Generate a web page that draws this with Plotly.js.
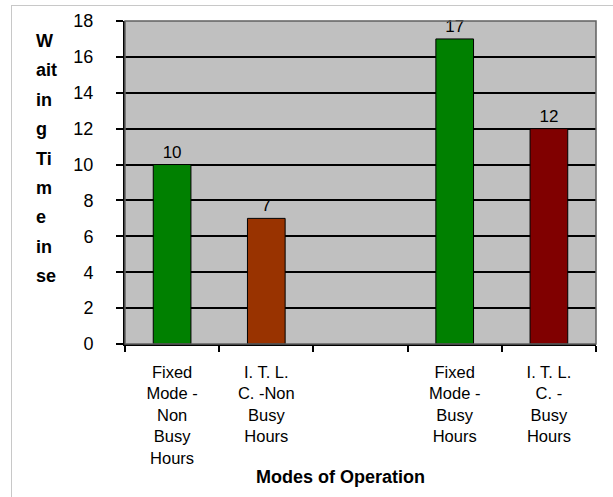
<!DOCTYPE html>
<html>
<head>
<meta charset="utf-8">
<script src="https://cdn.plot.ly/plotly-3.0.1.min.js"></script>
<style>
  html, body { margin: 0; padding: 0; background: #ffffff; }
  #wrap { position: relative; width: 613px; height: 497px; }
  #frame { position: absolute; left: 11px; top: 5px; width: 620px; height: 520px; border: 1px solid #c8c8c8; box-sizing: border-box; }
  #chart { position: absolute; left: 0; top: 0; width: 613px; height: 497px; }
</style>
</head>
<body>
<div id="wrap">
  <div id="frame"></div>
  <div id="chart"></div>
</div>
<script>
const categories = [
  "Fixed<br>Mode -<br>Non<br>Busy<br>Hours",
  "I. T. L.<br>C. -Non<br>Busy<br>Hours",
  " ",
  "Fixed<br>Mode -<br>Busy<br>Hours",
  "I. T. L.<br>C. -<br>Busy<br>Hours"
];
const waitingTime = [10, 7, null, 17, 12];
const valueLabels = ["10", "7", "", "17", "12"];
const barColors = ["#008000", "#993300", "#808080", "#008000", "#800000"];
const yTickValues = [0, 2, 4, 6, 8, 10, 12, 14, 16, 18];
const yTitleLines = ["W", "ait", "in", "g", "Ti", "m", "e", "in", "se"];
const xTitle = "Modes of Operation";

const W = 613, H = 497;
const mL = 125, mR = 17, mT = 21, mB = 153;
const plotH = H - mT - mB, plotW = W - mL - mR;
const FONT = "Arial, Liberation Sans, sans-serif";

const yTitleTop = 41, yTitleStep = 29.4;
const annotations = yTitleLines.map((t, i) => ({
  text: t,
  xref: "paper", yref: "paper",
  x: (34 - mL) / plotW,
  y: (H - mB - (yTitleTop + i * yTitleStep)) / plotH,
  xanchor: "left", yanchor: "middle",
  showarrow: false,
  font: { family: FONT, size: 18, color: "#000000", weight: "bold" }
}));
annotations.push({
  text: xTitle,
  xref: "paper", yref: "paper",
  x: (340 - mL) / plotW,
  y: (H - mB - 477) / plotH,
  xanchor: "center", yanchor: "middle",
  showarrow: false,
  font: { family: FONT, size: 18, color: "#000000", weight: "bold" }
});

const trace = {
  type: "bar",
  x: categories,
  y: waitingTime,
  text: valueLabels,
  textposition: "outside",
  cliponaxis: false,
  textfont: { family: FONT, size: 17, color: "#000000" },
  width: 0.4,
  marker: { color: barColors, line: { color: "#000000", width: 1 } },
  hoverinfo: "none"
};

const layout = {
  width: W, height: H,
  margin: { l: mL, r: mR, t: mT, b: mB, pad: 0 },
  paper_bgcolor: "rgba(0,0,0,0)",
  plot_bgcolor: "#c0c0c0",
  showlegend: false,
  font: { family: FONT, size: 17, color: "#000000" },
  xaxis: {
    type: "category",
    tickmode: "array",
    tickvals: categories,
    ticktext: categories,
    tickson: "boundaries",
    ticks: "outside", ticklen: 6, tickwidth: 2, tickcolor: "#000000",
    showline: true, linecolor: "#000000", linewidth: 2,
    showgrid: false,
    tickangle: 0,
    ticklabelstandoff: 12,
    tickfont: { family: FONT, size: 16.5, color: "#000000" },
    automargin: false,
    fixedrange: true
  },
  yaxis: {
    range: [0, 18],
    tickmode: "array",
    tickvals: yTickValues,
    ticks: "outside", ticklen: 7, tickwidth: 2, tickcolor: "#000000",
    showline: true, linecolor: "#000000", linewidth: 2,
    showgrid: true, gridcolor: "#000000", gridwidth: 2,
    zeroline: false,
    ticklabelstandoff: 19,
    tickfont: { family: FONT, size: 18, color: "#000000" },
    automargin: false,
    fixedrange: true
  },
  shapes: [{
    type: "rect", xref: "paper", yref: "paper", x0: 0, x1: 1, y0: 0, y1: 1,
    line: { color: "#606060", width: 1.5 }, fillcolor: "rgba(0,0,0,0)", layer: "above"
  }],
  annotations: annotations
};

Plotly.newPlot("chart", [trace], layout, { displayModeBar: false, staticPlot: true });
</script>
</body>
</html>
